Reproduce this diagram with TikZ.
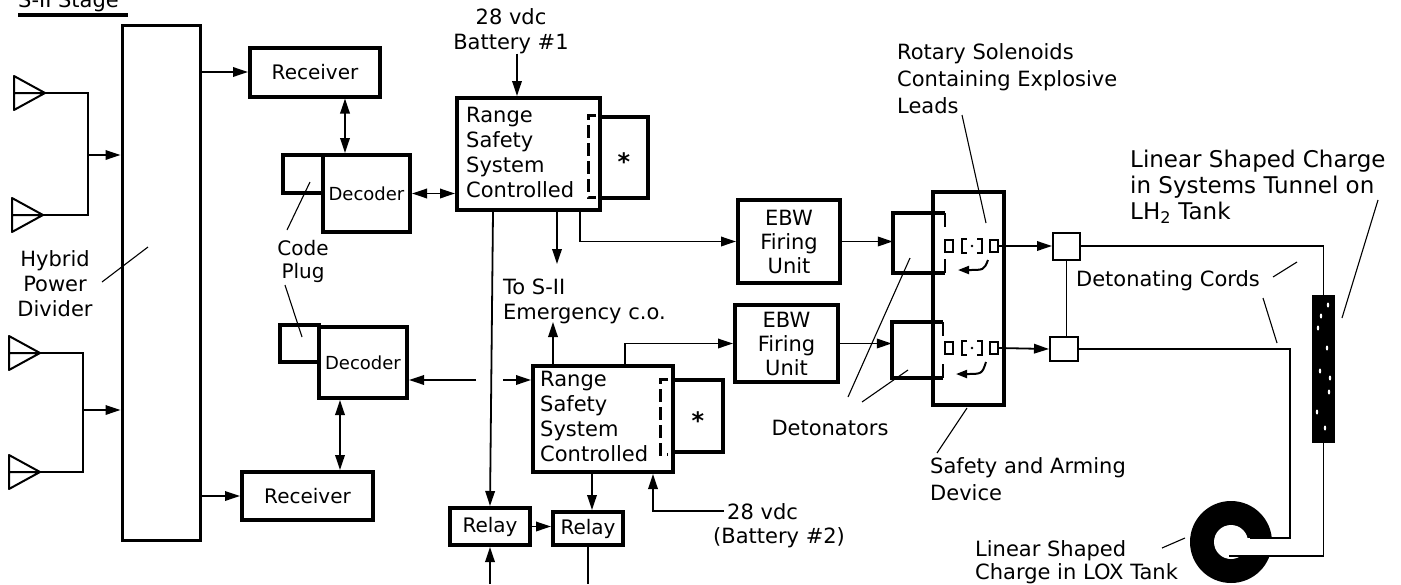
\documentclass[tikz,border=0pt]{standalone}
\usepackage{fontspec}
\setmainfont{DejaVu Sans}
\usetikzlibrary{arrows.meta}
\begin{document}
\begin{tikzpicture}[x=1pt,y=-1pt,>={Triangle[length=15pt,width=9.5pt]},
 conn/.style={line width=1.8pt,->},
 dconn/.style={line width=1.8pt,<->},
 wire/.style={line width=1.8pt},
 lead/.style={line width=1.1pt},
 blk/.style={draw,line width=4pt,inner sep=0pt,rectangle},
 jbox/.style={draw,line width=2pt,inner sep=0pt,rectangle},
 lbl/.style={inner sep=0pt,font=\fontsize{21}{25}\selectfont},
 sol/.style={draw,line width=1.5pt,inner sep=0pt,rectangle,minimum width=8pt,minimum height=12pt},
 brk/.style={line width=1.5pt},
 ant/.style={line width=2pt,line join=round},
 dbr/.style={line width=3pt,dash pattern=on 13pt off 5pt},
 carr/.style={line width=2pt,-{Triangle[length=11pt,width=8pt]}},
]
\fill[white] (0,0) rectangle (1401,584);
\useasboundingbox (0,0) rectangle (1401,584);

% title
\node[lbl,anchor=base west] (title) at (18,7) {S-II Stage};
\draw[line width=4pt] (18,15) coordinate (ul1) -- (128,15) coordinate (ul2);

% antennas
\coordinate (a1) at (45,93);
\coordinate (a2) at (43,215);
\coordinate (a3) at (40,353);
\coordinate (a4) at (40,472);
\foreach \p in {a1,a2,a3,a4}
  \draw[ant] (\p) -- ++(-31,-17) -- ++(0,34) -- cycle (\p) -- ++(-31,0);

% hybrid power divider
\node[blk,line width=3pt,minimum width=78pt,minimum height=515pt] (div) at (161,282.5) {};
\coordinate (j1) at (88,155);
\coordinate (j2) at (83,410);
\draw[wire] (a1) -| (j1) |- (a2);
\draw[wire] (a3) -| (j2) |- (a4);
\draw[conn] (j1) -- (j1 -| div.west);
\draw[conn] (j2) -- (j2 -| div.west);

% receivers, decoders, code plugs
\node[blk,minimum width=130pt,minimum height=49pt,font=\fontsize{20}{24}\selectfont] (rec1) at (315,72) {Receiver};
\node[blk,minimum width=131pt,minimum height=48pt,font=\fontsize{20}{24}\selectfont] (rec2) at (307.5,496) {Receiver};
\node[blk,minimum width=87pt,minimum height=77pt,font=\fontsize{18}{22}\selectfont] (dec1) at (366.5,193.5) {Decoder};
\node[blk,minimum width=40pt,minimum height=38pt] (plug1) at (303,174) {};
\node[blk,minimum width=88pt,minimum height=71pt,font=\fontsize{18}{22}\selectfont] (dec2) at (363,362.5) {Decoder};
\node[blk,minimum width=39pt,minimum height=37pt] (plug2) at (299.5,343.5) {};

\draw[conn] (div.east |- rec1.west) -- (rec1.west);
\draw[conn] (div.east |- rec2.west) -- (rec2.west);
\draw[dconn] (345,0 |- rec1.south) -- (345,0 |- dec1.north);
\draw[dconn] (340,0 |- dec2.south) -- (340,0 |- rec2.north);

% range safety systems
\node[blk,minimum width=143pt,minimum height=112pt] (rss1) at (528.5,154) {};
\node[lbl,align=left,anchor=north west] (rss1t) at (466,107) {Range\\Safety\\System\\Controlled};
\node[blk,minimum width=48pt,minimum height=81pt] (star1) at (624,157.5) {};
\node[inner sep=0pt,font=\fontsize{24}{24}\bfseries] (st1) at (624,162) {*};
\draw[dbr] (596,115) -- (588,115) -- (588,197) -- (596,197);

\node[blk,minimum width=140pt,minimum height=106pt] (rss2) at (603,419) {};
\node[lbl,align=left,anchor=north west] (rss2t) at (540,371) {Range\\Safety\\System\\Controlled};
\node[blk,minimum width=50pt,minimum height=72pt] (star2) at (698,416) {};
\node[inner sep=0pt,font=\fontsize{24}{24}\bfseries] (st2) at (698,421) {*};
\draw[dbr] (668,379) -- (660,379) -- (660,454) -- (668,454);

\node[lbl,align=center,anchor=north] (bat1) at (511,8) {28 vdc\\Battery \#1};
\draw[conn] (517,0 |- bat1.south) -- (517,0 |- rss1.north);

\draw[dconn] (dec1.east) -- (dec1.east -| rss1.west);
\coordinate (g1) at (476,380);
\coordinate (g2) at (503,380);
\draw[conn] (g1) -- (g1 -| dec2.east);
\draw[conn] (g2) -- (g2 -| rss2.west);

% relays
\node[blk,minimum width=80pt,minimum height=37pt,font=\fontsize{20}{24}\selectfont] (relay1) at (490,526.5) {Relay};
\node[blk,minimum width=70pt,minimum height=33pt,font=\fontsize{20}{24}\selectfont] (relay2) at (588,528.5) {Relay};
\draw[conn] (493,0 |- rss1.south) -- (relay1.north);
\draw[conn] (592,0 |- rss2.south) -- (592,0 |- relay2.north);
\draw[conn] (relay1.east) -- (relay1.east -| relay2.west);
\coordinate (rb1) at (490,584);
\draw[conn] (rb1) -- (relay1.south);
\draw[wire] (relay2.south) -- (relay2.south |- rb1);

% emergency c.o.
\node[lbl,align=left,anchor=north west] (emg) at (503,279) {To S-II\\Emergency c.o.};
\coordinate (e1) at (557,264);
\coordinate (e2) at (553,322);
\draw[conn] (557,0 |- rss1.south) -- (e1);
\draw[conn] (553,0 |- rss2.north) -- (e2);

% battery 2
\node[lbl,anchor=north west] (bat2a) at (727,503) {28 vdc};
\node[lbl,anchor=north west] (bat2b) at (713,527) {(Battery \#2)};
\draw[conn] ([xshift=-3pt]bat2a.west) -| (653,0 |- rss2.south);

% EBW firing units
\node[blk,minimum width=102pt,minimum height=83pt,align=center,font=\fontsize{21}{24}\selectfont] (ebw1) at (789,241.5) {EBW\\Firing\\Unit};
\node[blk,minimum width=103pt,minimum height=77pt,align=center,font=\fontsize{21}{24}\selectfont] (ebw2) at (786.5,343.5) {EBW\\Firing\\Unit};
\draw[conn] (580,0 |- rss1.south) |- (ebw1.west);
\draw[conn] (625,0 |- rss2.north) |- (ebw2.west);

% detonators and safety & arming device
\node[minimum width=52pt,minimum height=60pt,inner sep=0pt] (det1) at (919,243) {};
\node[minimum width=51pt,minimum height=56pt,inner sep=0pt] (det2) at (917.5,350) {};
\foreach \d in {det1,det2} {
  \draw[line width=4pt] (\d.north east) -- (\d.north west) -- (\d.south west) -- (\d.south east);
  \draw[line width=1.8pt] (\d.north east) -- ++(0,14) (\d.south east) -- ++(0,-14);
}
\node[blk,minimum width=71pt,minimum height=213pt] (sad) at (968.5,298.5) {};
\draw[conn] (ebw1.east) -- (ebw1.east -| det1.west);
\draw[conn] (ebw2.east) -- (ebw2.east -| det2.west);

% rotary solenoids
\node[sol] (s1a) at (949,246) {};
\node[sol] (s1b) at (994,246) {};
\draw[brk] (967,239) -- (962,239) -- (962,253) -- (967,253);
\draw[brk] (977,239) -- (982,239) -- (982,253) -- (977,253);
\fill (972,246) circle[radius=1.3pt];
\node[sol] (s2a) at (949,348) {};
\node[sol] (s2b) at (994,348) {};
\draw[brk] (967,341) -- (962,341) -- (962,355) -- (967,355);
\draw[brk] (977,341) -- (982,341) -- (982,355) -- (977,355);
\fill (972,348) circle[radius=1.3pt];
\draw[carr] (988,260) .. controls (984,270) .. (958,270);
\draw[carr] (986,362) .. controls (982,374) .. (956,374);

% junction boxes
\node[jbox,minimum width=27pt,minimum height=27pt] (jb1) at (1066.5,246) {};
\node[jbox,minimum width=28pt,minimum height=24pt] (jb2) at (1064,349) {};
\draw[conn] (s1b.east) -- (jb1.west);
\draw[conn] (s2b.east) -- (jb2.west);
\draw[wire] (jb1.south) -- (jb1.south |- jb2.north);

% LH2 linear shaped charge
\node[fill=black,minimum width=23pt,minimum height=148pt,inner sep=0pt] (lh2) at (1323.5,369) {};
\foreach \px/\py in {1328/305,1318/328,1327/348,1320/371,1329/392,1317/412,1325/428,1321/316,1330/378}
  \fill[white] (\px,\py) ellipse[x radius=1.2pt,y radius=2.5pt];

% LOX ring charge
\coordinate (lox) at (1231,542);
\fill (lox) circle[radius=41pt];
\fill[white] (lox) circle[radius=17pt];
\fill[white] (1231,538) rectangle (1280,556);
\coordinate (loxA) at (1250,538);
\coordinate (loxB) at (1229,556);

% detonating cords
\draw[wire] (jb1.east) -| (lh2.north);
\draw[wire] (lh2.south) |- (loxB);
\draw[wire] (jb2.east) -| (1290,538) -- (loxA);

% labels
\node[lbl,align=center,anchor=north] (hpd) at (55,250) {Hybrid\\Power\\Divider};
\node[lbl,align=center,anchor=north,font=\fontsize{20}{23}\selectfont] (cp) at (303,240) {Code\\Plug};
\node[lbl,anchor=north] (detl) at (830,420) {Detonators};
\node[lbl,align=left,anchor=north west,font=\fontsize{21}{27}\selectfont] (sadl) at (930,457) {Safety and Arming\\Device};
\node[lbl,align=left,anchor=north west,font=\fontsize{21}{27}\selectfont] (rotl) at (897,43) {Rotary Solenoids\\Containing Explosive\\Leads};
\node[lbl,anchor=north] (dcl) at (1168,270) {Detonating Cords};
\node[lbl,align=left,anchor=north west,font=\fontsize{23}{26}\selectfont] (lh2l) at (1130,150) {Linear Shaped Charge\\in Systems Tunnel on\\LH\textsubscript{2} Tank};
\node[lbl,align=left,anchor=north west,font=\fontsize{21}{23}\selectfont] (loxl) at (975,540) {Linear Shaped\\Charge in LOX Tank};

% leader lines
\draw[lead] (102,282) coordinate (l1a) -- (148,247) coordinate (l1b);
\draw[lead] (287,230) coordinate (l2a) -- (310,182) coordinate (l2b);
\draw[lead] (285,285) coordinate (l3a) -- (302,337) coordinate (l3b);
\draw[lead] (962,115) coordinate (l4a) -- (986,223) coordinate (l4b);
\draw[lead] (848,397) coordinate (l5a) -- (910,258) coordinate (l5b);
\draw[lead] (862,402) coordinate (l6a) -- (908,370) coordinate (l6b);
\draw[lead] (937,453) coordinate (l7a) -- (967,408) coordinate (l7b);
\draw[lead] (1273,277) coordinate (l8a) -- (1297,262) coordinate (l8b);
\draw[lead] (1263,298) coordinate (l9a) -- (1277,343) coordinate (l9b);
\draw[lead] (1378,200) coordinate (l10a) -- (1342,318) coordinate (l10b);
\draw[lead] (1162,548) coordinate (l11a) -- (1185,538) coordinate (l11b);
\end{tikzpicture}
\end{document}
